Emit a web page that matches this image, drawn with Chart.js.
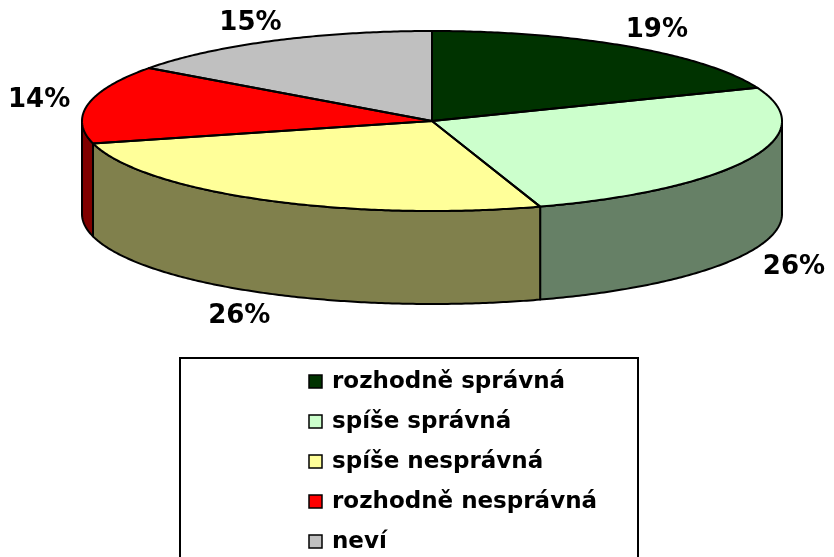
<!DOCTYPE html>
<html>
<head>
<meta charset="utf-8">
<script src="https://cdn.jsdelivr.net/npm/chart.js@4"></script>
<style>
  html, body { margin: 0; padding: 0; background: #fff; }
  #wrap { width: 834px; height: 557px; }
</style>
</head>
<body>
<div id="wrap"><canvas id="pie" width="834" height="557"></canvas></div>
<script>
const labels = ["rozhodně správná", "spíše správná", "spíše nesprávná", "rozhodně nesprávná", "neví"];
const shares = [19, 26, 26, 14, 15];
const topColors = ["#003300", "#CCFFCC", "#FFFF99", "#FF0000", "#C0C0C0"];
const sideColors = ["#001A00", "#668066", "#80804C", "#800000", "#606060"];

// where the flattened pie sits on the page
const CX = 432, CY = 121, RX = 350, RY = 90, DEPTH = 93;
const FONT = "bold 26px 'DejaVu Sans', Verdana, sans-serif";
const LEGEND_FONT = "bold 23px 'DejaVu Sans', Verdana, sans-serif";

function ellipsePath(ctx, a1, a2, dy) {
    // a1..a2 in chart.js angle space (0 = 3 o'clock, clockwise)
    const steps = Math.max(2, Math.ceil(Math.abs(a2 - a1) / 0.01));
    for (let i = 0; i <= steps; i++) {
        const a = a1 + (a2 - a1) * i / steps;
        ctx.lineTo(CX + RX * Math.cos(a), CY + dy + RY * Math.sin(a));
    }
}

const pie3d = {
    id: "pie3d",
    beforeDatasetsDraw(chart) {
        const ctx = chart.ctx;
        const arcs = chart.getDatasetMeta(0).data;
        // side walls (only the front half shows)
        ctx.save();
        ctx.lineWidth = 2;
        ctx.strokeStyle = "#000";
        ctx.lineJoin = "round";
        arcs.forEach((arc, i) => {
            let s = arc.startAngle, e = arc.endAngle;
            [[0, Math.PI], [2 * Math.PI, 3 * Math.PI]].forEach(([lo, hi]) => {
                const a1 = Math.max(s, lo), a2 = Math.min(e, hi);
                if (a2 <= a1) return;
                ctx.beginPath();
                ctx.moveTo(CX + RX * Math.cos(a1), CY + RY * Math.sin(a1));
                ellipsePath(ctx, a1, a2, 0);
                ellipsePath(ctx, a2, a1, DEPTH);
                ctx.closePath();
                ctx.fillStyle = sideColors[i];
                ctx.fill();
                ctx.stroke();
            });
        });
        ctx.restore();

        // squash the pie that chart.js draws into the ellipse
        const a0 = arcs[0];
        const r = a0.outerRadius;
        ctx.save();
        ctx.translate(CX, CY);
        ctx.scale(RX / r, RY / r);
        ctx.translate(-a0.x, -a0.y);
    },
    afterDatasetsDraw(chart) {
        const ctx = chart.ctx;
        ctx.restore();
        const arcs = chart.getDatasetMeta(0).data;
        ctx.save();
        ctx.lineWidth = 2;
        ctx.strokeStyle = "#000";
        ctx.lineJoin = "round";
        arcs.forEach((arc) => {
            ctx.beginPath();
            ctx.moveTo(CX, CY);
            ellipsePath(ctx, arc.startAngle, arc.endAngle, 0);
            ctx.closePath();
            ctx.stroke();
        });

        // percentage labels
        ctx.font = FONT;
        ctx.fillStyle = "#000";
        ctx.textAlign = "center";
        ctx.textBaseline = "middle";
        const total = shares.reduce((a, b) => a + b, 0);
        arcs.forEach((arc, i) => {
            const m = (arc.startAngle + arc.endAngle) / 2;
            const c = Math.cos(m), s = Math.sin(m);
            let x = CX + (RX + 50) * c;
            let y = CY + (RY + 20) * s;
            if (s > 0) y += DEPTH + 6;
            ctx.fillText(Math.round(shares[i] / total * 100) + "%", x, y);
        });
        ctx.restore();
    },
    afterDraw(chart) {
        const ctx = chart.ctx;
        ctx.save();
        ctx.strokeStyle = "#000";
        ctx.lineWidth = 2;
        ctx.strokeRect(180, 358, 458, 220);
        ctx.font = LEGEND_FONT;
        ctx.textAlign = "left";
        ctx.textBaseline = "middle";
        labels.forEach((lab, i) => {
            const y = 381 + i * 40;
            ctx.fillStyle = topColors[i];
            ctx.fillRect(309, y - 6, 13, 13);
            ctx.lineWidth = 1.5;
            ctx.strokeRect(309, y - 6, 13, 13);
            ctx.fillStyle = "#000";
            ctx.fillText(lab, 332, y + 1);
        });
        ctx.restore();
    }
};

new Chart(document.getElementById("pie"), {
    type: "pie",
    data: {
        labels: labels,
        datasets: [{
            data: shares,
            backgroundColor: topColors,
            borderWidth: 0,
            clip: false
        }]
    },
    options: {
        responsive: false,
        animation: false,
        events: [],
        layout: { padding: 0 },
        plugins: {
            legend: { display: false },
            tooltip: { enabled: false }
        }
    },
    plugins: [pie3d]
});
</script>
</body>
</html>
